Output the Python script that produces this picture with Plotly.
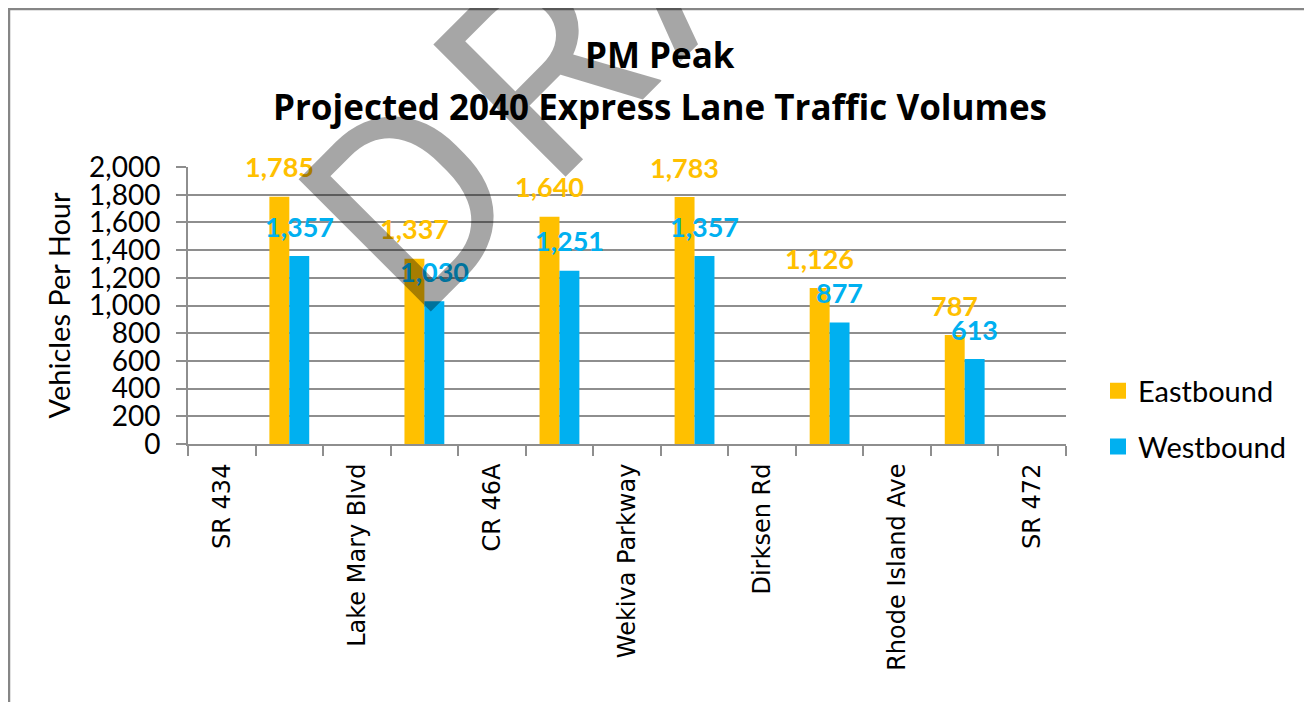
import plotly.graph_objects as go

# ---------------- data ----------------
interchanges = ["SR 434", "Lake Mary Blvd", "CR 46A", "Wekiva Parkway",
                "Dirksen Rd", "Rhode Island Ave", "SR 472"]
segments = ["SR 434 – Lake Mary Blvd", "Lake Mary Blvd – CR 46A",
            "CR 46A – Wekiva Parkway", "Wekiva Parkway – Dirksen Rd",
            "Dirksen Rd – Rhode Island Ave", "Rhode Island Ave – SR 472"]
eastbound = [1785, 1337, 1640, 1783, 1126, 787]
westbound = [1357, 1030, 1251, 1357, 877, 613]
y_tick_vals = [0, 200, 400, 600, 800, 1000, 1200, 1400, 1600, 1800, 2000]
title_lines = ["PM Peak", "Projected 2040 Express Lane Traffic Volumes"]
y_title = "Vehicles Per Hour"
series_names = ["Eastbound", "Westbound"]
watermark = "DRAFT"

# ---------------- style / geometry ----------------
ORANGE = "#FFC000"
BLUE = "#00B0F0"
GRID = "#8E8E8E"
W, H = 1312, 702
OFF = 8  # page body margin: screen = figure + 8
L, T = 180, 159
PR, PB = 1058, 436  # plot right / bottom in figure px
R, B = W - PR, H - PB
PW, PH = PR - L, PB - T


def px_x(sx):
    """screen x -> paper x"""
    return (sx - OFF - L) / PW


def px_y(sy):
    """screen y -> paper y"""
    return (PB - (sy - OFF)) / PH


# interleave interchanges and segments into the category axis
categories = []
ticktext = []
for i, name in enumerate(interchanges):
    categories.append(name)
    ticktext.append(name)
    if i < len(segments):
        categories.append(segments[i])
        ticktext.append("")

fig = go.Figure()
fig.add_trace(go.Bar(name=series_names[0], x=segments, y=eastbound,
                     showlegend=False, legendgroup="e",
                     marker=dict(color=ORANGE, line=dict(width=0))))
fig.add_trace(go.Bar(name=series_names[1], x=segments, y=westbound,
                     showlegend=False, legendgroup="w",
                     marker=dict(color=BLUE, line=dict(width=0))))
# legend entries with larger square swatches (no data of their own)
for nm, col, grp in zip(series_names, [ORANGE, BLUE], ["e", "w"]):
    fig.add_trace(go.Scatter(name=nm, x=[None], y=[None], mode="markers",
                             legendgroup=grp, showlegend=True, hoverinfo="skip",
                             marker=dict(symbol="square", size=17, color=col,
                                         line=dict(width=0))))

annotations = []
# data labels
for seg, e, w in zip(segments, eastbound, westbound):
    annotations.append(dict(x=seg, y=e, xref="x", yref="y", text=f"<b>{e:,}</b>",
                            showarrow=False, xshift=-10, yshift=30,
                            xanchor="center", yanchor="middle",
                            font=dict(family="Lato", size=27, color=ORANGE)))
    annotations.append(dict(x=seg, y=w, xref="x", yref="y", text=f"<b>{w:,}</b>",
                            showarrow=False, xshift=10, yshift=30,
                            xanchor="center", yanchor="middle",
                            font=dict(family="Lato", size=27, color=BLUE)))

# title lines
for txt, py in zip(title_lines, [54, 106]):
    annotations.append(dict(x=px_x(660), y=px_y(py), xref="paper", yref="paper",
                            text=f"<b>{txt}</b>", showarrow=False,
                            xanchor="center", yanchor="middle",
                            font=dict(family="Open Sans", size=35, color="black")))

# watermark (semi-transparent large rotated text)
annotations.append(dict(
    x=px_x(670), y=px_y(-55), xref="paper", yref="paper",
    text=f'<span style="letter-spacing:18px">{watermark}</span>',
    showarrow=False, textangle=-45, xanchor="center", yanchor="middle",
    font=dict(family="Roboto", size=263, color="rgba(0,0,0,0.35)")))

shapes = [dict(type="rect", xref="paper", yref="paper",
               x0=(1 - L) / PW, x1=(W + 20 - L) / PW,
               y0=(PB - 1) / PH, y1=(PB - H - 20) / PH,
               line=dict(color="#868686", width=2.5), fillcolor="rgba(0,0,0,0)",
               layer="above")]

fig.update_layout(
    width=W, height=H,
    margin=dict(l=L, r=R, t=T, b=B, pad=0),
    paper_bgcolor="white", plot_bgcolor="white",
    barmode="group", bargap=0.41, bargroupgap=0,
    showlegend=True,
    legend=dict(x=px_x(1098), y=px_y(419), xanchor="left", yanchor="middle",
                font=dict(family="Lato", size=29, color="black"),
                tracegroupgap=15, traceorder="grouped", itemsizing="trace",
                bgcolor="rgba(0,0,0,0)", borderwidth=0),
    annotations=annotations,
    shapes=shapes,
    font=dict(family="Lato", color="black"),
)

fig.update_xaxes(
    type="category", categoryorder="array", categoryarray=categories,
    tickmode="array", tickvals=categories, ticktext=ticktext,
    tickson="boundaries", ticks="outside", ticklen=10, tickwidth=2, tickcolor=GRID,
    tickangle=-90, tickfont=dict(family="DejaVu Sans", size=24, color="black"),
    showline=True, linecolor=GRID, linewidth=2, showgrid=False,
    range=[-0.5, len(categories) - 0.5], ticklabelstandoff=8,
)
fig.update_yaxes(
    range=[0, 2000], tickmode="array", tickvals=y_tick_vals,
    tickformat=",d", ticks="outside", ticklen=10, tickwidth=2, tickcolor=GRID,
    tickfont=dict(family="Lato", size=28, color="black"),
    showline=True, linecolor=GRID, linewidth=2,
    showgrid=True, gridcolor=GRID, gridwidth=2, zeroline=False,
    title=dict(text=y_title, font=dict(family="Lato", size=29, color="black"),
               standoff=10),
    ticklabelstandoff=10,
)

fig.write_html("out.html")
